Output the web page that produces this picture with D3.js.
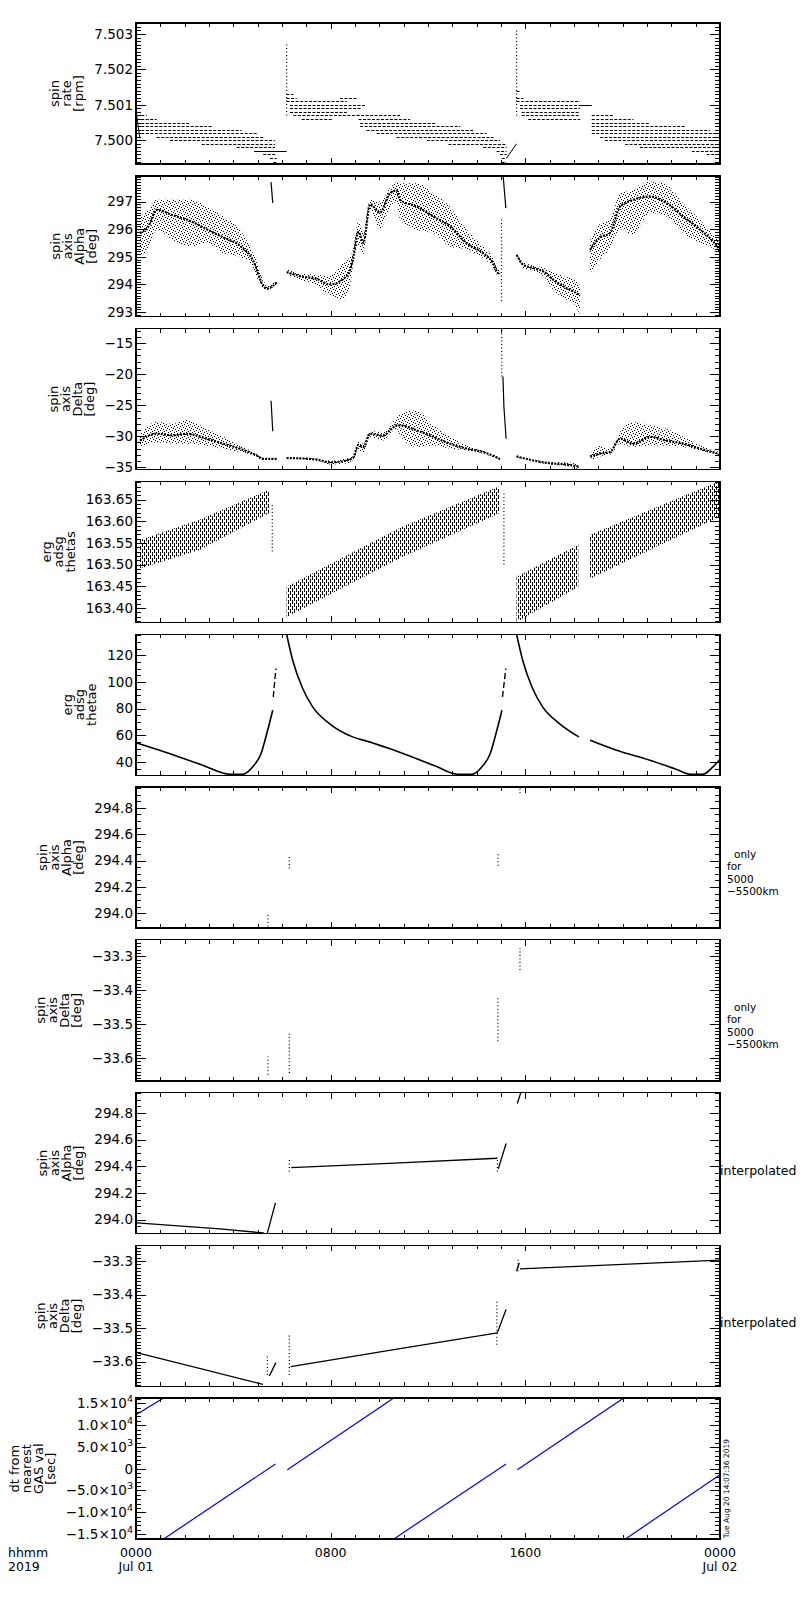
<!DOCTYPE html>
<html>
<head>
<meta charset="utf-8">
<script src="https://cdn.jsdelivr.net/npm/d3@7"></script>
<style>
  body { margin: 0; background: #fff; }
  text { font-family: "DejaVu Sans", sans-serif; fill: #000; }
</style>
</head>
<body>
<svg id="chart" width="800" height="1600"></svg>
<script>
// ---- values (time in hours since 0000 Jul 01) ----
const hourTicks = [0, 8, 16, 24];
const hourLabels = ["0000", "0800", "1600", "0000"];
const dateLabels = ["Jul 01", "", "", "Jul 02"];

// spin rate: quantised levels [t0, t1, rpm]
const rateLevels = [
  [0.03,0.44,7.5007],[0.03,0.85,7.5006],[0.03,2.22,7.5005],[0.03,3.11,7.5004],[0.03,4.34,7.5003],
  [0.03,4.96,7.5002],[0.85,5.23,7.5001],[1.40,5.71,7.5000],[2.70,5.71,7.4999],[4.14,5.71,7.4998],
  [5.23,5.78,7.4996],[5.51,5.78,7.4995],[5.64,5.78,7.4994],
  [6.19,6.47,7.5013],[6.19,6.60,7.5012],[8.38,9.14,7.5012],[6.19,8.66,7.5011],[6.33,9.41,7.5010],
  [6.33,9.27,7.5009],[6.33,8.66,7.5008],[6.47,9.14,7.5007],[6.81,8.11,7.5006],
  [9.07,10.85,7.5007],[9.14,11.26,7.5006],[9.21,12.36,7.5005],[9.21,13.32,7.5004],[9.48,13.93,7.5003],
  [9.89,14.41,7.5002],[10.71,14.69,7.5001],[11.95,14.96,7.5000],[12.84,15.23,7.4999],[14.27,15.23,7.4998],
  [14.82,15.23,7.4997],[14.96,15.23,7.4996],[15.03,15.23,7.4995],[15.03,15.23,7.4994],
  [15.64,15.78,7.5014],[15.64,15.92,7.5012],[15.64,18.25,7.5011],[15.78,18.25,7.5010],[15.78,18.25,7.5009],
  [15.85,18.25,7.5008],[15.85,18.25,7.5007],[16.12,18.25,7.5006],
  [18.73,19.62,7.5007],[18.73,20.44,7.5006],[18.73,21.12,7.5005],[18.73,22.56,7.5004],[18.73,23.59,7.5003],
  [18.73,24.0,7.5002],[19.07,24.0,7.5001],[19.27,24.0,7.5000],[20.10,24.0,7.4999],[20.71,24.0,7.4998],
  [22.84,24.0,7.4997],[23.45,24.0,7.4996]
];
const rateSolid = [[4.85,6.19,7.4997],[18.25,18.73,7.5010]];
const rateRamps = [[[0.03,7.5007],[0.16,7.50005]], [[15.23,7.4995],[15.64,7.4999]]];
const rateSpikes = [[6.19,7.5007,7.50272],[15.64,7.5007,7.50317]];

// spin axis alpha clouds [t, centre, low, high]
const alphaClouds = [
  [[0.16,295.86,295.0,296.46],[0.51,296.1,295.3,296.7],[0.85,296.7,295.98,297.06],[1.53,296.5,295.6,297.06],
   [2.22,296.3,295.37,297.06],[2.90,296.0,295.5,296.82],[3.59,295.7,295.13,296.46],[4.27,295.4,295.0,295.98],
   [4.82,294.85,294.6,295.13],[5.23,293.95,293.8,294.2],[5.37,293.85,293.8,293.95],[5.78,294.07,294.0,294.15]],
  [[6.19,294.45,294.35,294.55],[6.74,294.3,294.15,294.4],[7.42,294.2,293.95,294.35],[7.97,294.0,293.6,294.3],
   [8.52,294.2,293.45,294.8],[8.79,294.5,293.9,295.0],[8.93,295.0,294.7,295.3],[9.14,295.9,295.4,296.3],
   [9.34,295.5,295.1,295.9],[9.62,296.9,296.7,297.06],[10.03,296.6,296.0,297.0],[10.44,297.3,296.8,297.5],
   [10.71,297.4,297.0,297.7],[10.85,297.06,296.34,297.66],[11.53,296.82,295.98,297.66],[12.22,296.46,295.86,297.3],
   [12.90,296.1,295.37,296.82],[13.59,295.49,295.25,295.98],[14.27,295.13,294.95,295.37],[14.68,294.77,294.6,294.95],
   [14.89,294.41,294.3,294.55],[14.96,294.45,294.35,294.55]],
  [[15.64,295.07,295.0,295.13],[15.92,294.71,294.6,294.8],[16.33,294.59,294.45,294.7],[16.74,294.47,294.3,294.6],
   [17.15,294.17,293.8,294.45],[17.56,293.93,293.5,294.3],[17.97,293.75,293.33,294.2],[18.25,293.6,292.9,294.0]],
  [[18.66,295.25,294.4,295.6],[19.07,295.7,294.9,296.2],[19.48,295.86,295.3,296.34],[19.89,296.82,296.0,297.3],
   [20.44,297.06,295.8,297.42],[21.12,297.18,296.58,297.72],[21.81,296.94,296.46,297.6],[22.49,296.46,295.86,296.94],
   [23.18,295.98,295.5,296.34],[23.73,295.55,295.3,295.8],[24.0,295.25,295.1,295.5]]
];
const alphaJumps = [[[5.55,297.7],[5.62,296.95]], [[15.09,297.9],[15.20,296.76]]];
const alphaSpikes = [[15.02,293.4,296.4]];

// spin axis delta clouds [t, centre, low, high]
const deltaClouds = [
  [[0.16,-30.7,-31.75,-29.6],[0.85,-29.6,-30.95,-27.7],[1.53,-29.85,-31.2,-28.0],[2.08,-29.6,-31.2,-27.4],
   [2.90,-30.4,-31.5,-28.8],[3.59,-31.2,-32.0,-30.1],[4.27,-32.0,-32.55,-31.5],[4.96,-33.1,-33.25,-32.8],
   [5.23,-33.65,-33.75,-33.5],[5.78,-33.65,-33.75,-33.55]],
  [[6.19,-33.5,-33.6,-33.4],[7.42,-33.75,-33.9,-33.6],[7.97,-34.2,-34.55,-33.9],[8.66,-33.9,-34.4,-33.6],
   [8.93,-33.4,-33.75,-33.0],[9.14,-31.4,-32.2,-30.9],[9.34,-31.75,-32.6,-31.2],[9.62,-29.6,-30.1,-29.2],
   [10.16,-29.9,-30.7,-29.3],[10.44,-29.05,-29.6,-28.3],[10.71,-28.25,-28.8,-26.9],[10.85,-28.25,-29.85,-26.35],
   [11.53,-29.05,-31.75,-25.8],[12.22,-30.1,-31.5,-28.25],[12.90,-31.2,-32.0,-30.1],[13.59,-32.0,-32.3,-31.5],
   [14.27,-32.55,-32.8,-32.3],[14.82,-33.4,-33.55,-33.2],[14.96,-33.65,-33.75,-33.5]],
  [[15.64,-33.25,-33.4,-33.1],[16.33,-33.9,-34.05,-33.75],[17.01,-34.35,-34.55,-34.1],[17.70,-34.55,-34.8,-34.2],
   [18.2,-34.9,-35.3,-34.5]],
  [[18.66,-33.25,-34.0,-32.8],[19.07,-32.8,-33.25,-31.5],[19.48,-32.55,-33.0,-32.0],[19.89,-30.4,-31.2,-29.3],
   [20.44,-31.2,-31.75,-27.7],[21.12,-30.1,-31.5,-28.25],[21.81,-30.7,-31.5,-28.8],[22.49,-31.2,-31.75,-30.1],
   [23.18,-32.0,-32.3,-31.5],[24.0,-32.9,-33.1,-32.6]]
];
const deltaJumps = [[[5.55,-24.3],[5.62,-29.2]], [[15.08,-20.4],[15.12,-25.3],[15.21,-30.4]]];
const deltaSpikes = [[15.03,-20.4,-12.8]];

// erg adsg thetas bands [t, low, high]
const thetasBands = [
  [[0.16,163.491,163.557],[2.63,163.534,163.604],[5.48,163.619,163.673]],
  [[6.19,163.379,163.449],[10.85,163.515,163.585],[14.96,163.619,163.681]],
  [[15.64,163.368,163.472],[18.18,163.449,163.546]],
  [[18.66,163.468,163.569],[24.0,163.611,163.6925]]
];
const thetasSpikes = [[5.6,163.53,163.64],[15.12,163.50,163.67]];

// erg adsg thetae curves [t, deg]
const thetaeCurves = [
  [[0.03,54.2],[1.37,46.3],[2.74,37.5],[3.84,30.7],[4.38,30.7],[4.79,36.2],[5.14,46.3],[5.41,63.7],[5.62,78.7]],
  [[6.19,135.7],[6.44,116.25],[6.85,95],[7.26,81.25],[7.95,68.75],[8.9,58.75],[9.59,55],[10.41,50],
   [12.33,36.7],[13.2,30.7],[13.8,30.7],[14.21,36.2],[14.56,46.3],[14.83,63.7],[15.04,78.7]],
  [[15.64,135.7],[15.89,116.25],[16.3,95],[16.71,81.25],[17.4,68.75],[18.2,58.75]],
  [[18.66,56.25],[19.75,48.75],[21.12,41.25],[22.22,34.3],[22.8,30.7],[23.3,30.7],[23.71,36.2],[24.0,42]]
];
const thetaeDashed = [[[5.64,88.7],[5.75,110]], [[15.06,88.7],[15.2,110]]];

// only for 5000-5500 km: vertical dot runs [t, low, high]
const alphaNearDots = [[5.42,293.90,293.99],[6.30,294.34,294.44],[14.88,294.36,294.46],[15.78,294.91,294.95]];
const deltaNearDots = [[5.42,-33.649,-33.595],[6.30,-33.644,-33.526],[14.87,-33.55,-33.42],[15.78,-33.34,-33.276]];

// interpolated
const alphaInterp = [
  [[0.03,293.975],[3.45,293.93],[5.25,293.9]],
  [[5.40,293.9],[5.73,294.125]],
  [[6.38,294.39],[10.85,294.425],[14.85,294.46]],
  [[14.89,294.38],[15.21,294.57]],
  [[15.67,294.87],[15.81,294.95]]
];
const alphaInterpDots = [[6.30,294.36,294.45],[14.85,294.36,294.46]];
const deltaInterp = [
  [[0.03,-33.573],[5.22,-33.668]],
  [[5.48,-33.643],[5.75,-33.603]],
  [[6.36,-33.615],[10.85,-33.561],[14.85,-33.514]],
  [[14.85,-33.514],[15.21,-33.444]],
  [[15.64,-33.33],[15.75,-33.305]],
  [[15.78,-33.323],[24.0,-33.297]]
];
const deltaInterpDots = [[5.40,-33.64,-33.58],[6.30,-33.64,-33.515],[14.83,-33.55,-33.42],[15.70,-33.33,-33.29]];

// dt from nearest GAS val [sec]
const dtLines = [
  [[0,12400],[1.12,16200]], [[1.12,-16200],[5.73,1078]], [[6.22,-230],[10.58,16200]],
  [[10.58,-16200],[15.21,1078]], [[15.67,-230],[20.03,16200]], [[20.1,-16200],[24,-1377]]
];

// axis tick values
const rateTicks = [7.500, 7.501, 7.502, 7.503];
const alphaTicks = [293, 294, 295, 296, 297];
const deltaTicks = [-35, -30, -25, -20, -15];
const thetasTicks = [163.40, 163.45, 163.50, 163.55, 163.60, 163.65];
const thetaeTicks = [40, 60, 80, 100, 120];
const alphaSubTicks = [294.0, 294.2, 294.4, 294.6, 294.8];
const deltaSubTicks = [-33.6, -33.5, -33.4, -33.3];
const dtTicks = [-15000, -10000, -5000, 0, 5000, 10000, 15000];

// ---- layout ----
const X0 = 136, X1 = 720, TOP0 = 23, STEP = 152.8, PH = 141;
const x = d3.scaleLinear().domain([0, 24]).range([X0, X1]);
const svg = d3.select("#chart");
const defs = svg.append("defs");

const speckle = defs.append("pattern").attr("id", "speckle")
  .attr("width", 6).attr("height", 6).attr("patternUnits", "userSpaceOnUse");
[[0,0],[3,1],[1,3],[4,4],[5,2],[2,5]].forEach(([a, b]) =>
  speckle.append("rect").attr("x", a).attr("y", b).attr("width", 1).attr("height", 1).attr("fill", "#000"));

const hatch = defs.append("pattern").attr("id", "hatch")
  .attr("width", 4).attr("height", 6).attr("patternUnits", "userSpaceOnUse");
[[0,0,4],[2,3,3],[2,0,1]].forEach(([a, b, h]) =>
  hatch.append("rect").attr("x", a).attr("y", b).attr("width", 1).attr("height", h).attr("fill", "#000"));

function clean(sel) {
  sel.select(".domain").remove();
  sel.selectAll(".tick line").attr("stroke", "#000").attr("shape-rendering", "crispEdges");
}

function minorValues(domain, step) {
  const k0 = Math.ceil(domain[0] / step - 1e-6), k1 = Math.floor(domain[1] / step + 1e-6);
  return d3.range(k0, k1 + 1).map(k => +(k * step).toFixed(6));
}

function addTitle(p, title) {
  let minX = 0;
  p.left.selectAll("text").each(function () { minX = Math.min(minX, this.getBBox().x); });
  const base = X0 + minX - 11;
  const n = title.length;
  title.forEach((line, j) => {
    p.g.append("text").attr("font-size", 13).attr("text-anchor", "middle")
      .attr("transform", `translate(${base - (n - 1 - j) * 12},${p.top + PH / 2}) rotate(-90)`)
      .text(line);
  });
}

function panel(i, domain, ticks, fmt, minorStep) {
  const top = TOP0 + i * STEP;
  const y = d3.scaleLinear().domain(domain).range([top + PH, top]);
  const g = svg.append("g");
  defs.append("clipPath").attr("id", "clip" + i).append("rect")
    .attr("x", X0).attr("y", top).attr("width", X1 - X0).attr("height", PH);
  const plot = g.append("g").attr("clip-path", `url(#clip${i})`);

  const minor = minorValues(domain, minorStep);
  g.append("g").attr("transform", `translate(${X0},0)`)
    .call(d3.axisLeft(y).tickValues(minor).tickSize(-5).tickFormat("")).call(clean);
  g.append("g").attr("transform", `translate(${X1},0)`)
    .call(d3.axisRight(y).tickValues(minor).tickSize(-5).tickFormat("")).call(clean);
  const left = g.append("g").attr("transform", `translate(${X0},0)`)
    .call(d3.axisLeft(y).tickValues(ticks).tickSize(-10).tickPadding(3).tickFormat(fmt)).call(clean);
  left.selectAll("text").attr("font-size", 13.5).attr("font-family", "DejaVu Sans").attr("fill", "#000");
  g.append("g").attr("transform", `translate(${X1},0)`)
    .call(d3.axisRight(y).tickValues(ticks).tickSize(-10).tickFormat("")).call(clean);

  const hrs = d3.range(0, 25);
  [[d3.axisBottom, top + PH], [d3.axisTop, top]].forEach(([ax, yy]) => {
    g.append("g").attr("transform", `translate(0,${yy})`)
      .call(ax(x).tickValues(hrs).tickSize(-4).tickFormat("")).call(clean);
    g.append("g").attr("transform", `translate(0,${yy})`)
      .call(ax(x).tickValues(hourTicks).tickSize(-6).tickFormat("")).call(clean);
  });

  g.append("rect").attr("x", X0).attr("y", top).attr("width", X1 - X0).attr("height", PH)
    .attr("fill", "none").attr("stroke", "#000").attr("stroke-width", 1.4).attr("shape-rendering", "crispEdges");
  return { g, plot, y, top, left };
}

const lineGen = y => d3.line().x(d => x(d[0])).y(d => y(d[1]));

function levels(p, segs, dash) {
  p.plot.append("g").selectAll("line").data(segs).join("line")
    .attr("x1", d => x(d[0])).attr("x2", d => x(d[1]))
    .attr("y1", d => Math.round(p.y(d[2])) + 0.5).attr("y2", d => Math.round(p.y(d[2])) + 0.5)
    .attr("stroke", "#000").attr("stroke-width", 1).attr("stroke-dasharray", dash);
}
function paths(p, sets, opts) {
  p.plot.append("g").selectAll("path").data(sets).join("path")
    .attr("d", opts.curve ? lineGen(p.y).curve(opts.curve) : lineGen(p.y))
    .attr("fill", "none").attr("stroke", opts.color || "#000")
    .attr("stroke-width", opts.width || 1).attr("stroke-dasharray", opts.dash || null);
}
function dotRuns(p, runs) {
  p.plot.append("g").selectAll("line").data(runs).join("line")
    .attr("x1", d => x(d[0])).attr("x2", d => x(d[0]))
    .attr("y1", d => p.y(d[1])).attr("y2", d => p.y(d[2]))
    .attr("stroke", "#000").attr("stroke-width", 1.2).attr("stroke-dasharray", "1,2.5");
}
function clouds(p, sets, fill, curve) {
  const area = d3.area().x(d => x(d[0])).y0(d => p.y(d[d.length - 2])).y1(d => p.y(d[d.length - 1]))
    .curve(curve);
  p.plot.append("g").selectAll("path").data(sets).join("path")
    .attr("d", area).attr("fill", `url(#${fill})`);
}
function cores(p, sets) {
  p.plot.append("g").selectAll("path").data(sets).join("path")
    .attr("d", d3.line().x(d => x(d[0])).y(d => p.y(d[1])).curve(d3.curveMonotoneX))
    .attr("fill", "none").attr("stroke", "#000").attr("stroke-width", 2.2).attr("stroke-dasharray", "2,1.2");
}

const f3 = d3.format(".3f"), f2 = d3.format(".2f"), f1 = d3.format(".1f"), f0 = d3.format("d");
const degT = ["spin", "axis", "Alpha", "[deg]"];
const delT = ["spin", "axis", "Delta", "[deg]"];

// 1 spin rate
const p1 = panel(0, [7.49933, 7.50331], rateTicks, f3, 0.0001);
addTitle(p1, ["spin", "rate", "[rpm]"]);
levels(p1, rateLevels, "3,1.5");
levels(p1, rateSolid, null);
paths(p1, rateRamps, {});
dotRuns(p1, rateSpikes);

// 2 alpha
const p2 = panel(1, [292.83, 297.93], alphaTicks, f0, 0.1);
addTitle(p2, degT);
clouds(p2, alphaClouds, "speckle", d3.curveMonotoneX);
cores(p2, alphaClouds);
paths(p2, alphaJumps, { width: 1.2 });
dotRuns(p2, alphaSpikes);

// 3 delta
const p3 = panel(2, [-35.37, -12.68], deltaTicks, f0, 1);
addTitle(p3, delT);
clouds(p3, deltaClouds, "speckle", d3.curveMonotoneX);
cores(p3, deltaClouds);
paths(p3, deltaJumps, { width: 1.2 });
dotRuns(p3, deltaSpikes);

// 4 thetas
const p4 = panel(3, [163.3668, 163.6918], thetasTicks, f2, 0.01);
addTitle(p4, ["erg", "adsg", "thetas"]);
clouds(p4, thetasBands, "hatch", d3.curveLinear);
dotRuns(p4, thetasSpikes);

// 5 thetae
const p5 = panel(4, [30.0, 135.75], thetaeTicks, f0, 5);
addTitle(p5, ["erg", "adsg", "thetae"]);
paths(p5, thetaeCurves, { width: 1.6, curve: d3.curveMonotoneX });
paths(p5, thetaeDashed, { width: 1.4, dash: "6,3" });

// 6, 7 only for 5000-5500km
const p6 = panel(5, [293.889, 294.957], alphaSubTicks, f1, 0.05);
addTitle(p6, degT);
dotRuns(p6, alphaNearDots);
const p7 = panel(6, [-33.667, -33.251], deltaSubTicks, f1, 0.01);
addTitle(p7, delT);
dotRuns(p7, deltaNearDots);

// 8, 9 interpolated
const p8 = panel(7, [293.895, 294.952], alphaSubTicks, f1, 0.05);
addTitle(p8, degT);
paths(p8, alphaInterp, { width: 1.3 });
dotRuns(p8, alphaInterpDots);
const p9 = panel(8, [-33.674, -33.253], deltaSubTicks, f1, 0.01);
addTitle(p9, delT);
paths(p9, deltaInterp, { width: 1.3 });
dotRuns(p9, deltaInterpDots);

// 10 dt
const p10 = panel(9, [-16200, 16200], dtTicks, d => d, 1000);
p10.left.selectAll(".tick text").each(function (d) {
  const t = d3.select(this).text(null);
  if (d === 0) { t.text("0"); return; }
  const e = Math.floor(Math.log10(Math.abs(d)));
  t.append("tspan").text(f1(d / Math.pow(10, e)) + "\u00d710");
  t.append("tspan").attr("dy", -6).attr("font-size", 9.5).text(e);
});
addTitle(p10, ["dt from", "nearest", "GAS val", "[sec]"]);
paths(p10, dtLines, { color: "#0000ff", width: 1.2 });

// right-hand notes
[p6, p7].forEach(p => {
  const b = p.top + 71;
  [["only", 734], ["for", 727], ["5000", 727], ["\u22125500km", 727]].forEach(([s, xx], k) =>
    svg.append("text").attr("x", xx).attr("y", b + k * 12.4).attr("font-size", 10.5).text(s));
});
[p8, p9].forEach(p => svg.append("text").attr("x", 720).attr("y", p.top + 82).attr("font-size", 12.5).text("interpolated"));

// x labels
const xb = p10.top + PH;
hourTicks.forEach((h, k) => {
  svg.append("text").attr("x", x(h)).attr("y", xb + 18).attr("text-anchor", "middle").attr("font-size", 12.5).text(hourLabels[k]);
  if (dateLabels[k]) svg.append("text").attr("x", x(h)).attr("y", xb + 32).attr("text-anchor", "middle").attr("font-size", 12.5).text(dateLabels[k]);
});
svg.append("text").attr("x", 8).attr("y", xb + 18).attr("font-size", 12.5).text("hhmm");
svg.append("text").attr("x", 8).attr("y", xb + 32).attr("font-size", 12.5).text("2019");

svg.append("text").attr("font-size", 7.5)
  .attr("transform", `translate(729,${xb - 1}) rotate(-90)`).text("Tue Aug 20 14:07:36 2019");
</script>
</body>
</html>
